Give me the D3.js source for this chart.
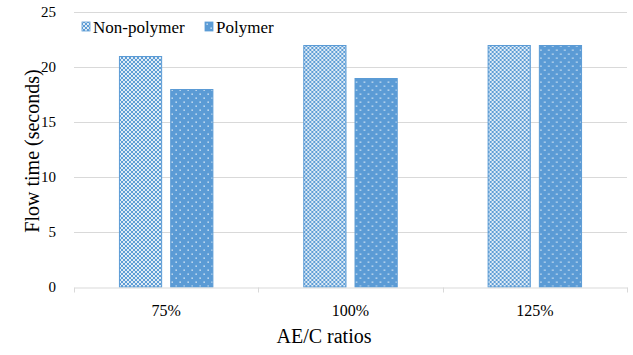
<!DOCTYPE html>
<html><head><meta charset="utf-8">
<script src="https://cdn.jsdelivr.net/npm/d3@7"></script>
<style>body{margin:0;background:#fff}svg{display:block}text{font-family:"Liberation Serif","Times New Roman","DejaVu Serif",serif;fill:#000}</style>
</head><body>
<svg id="c" width="633" height="355"></svg>
<script>
const categories = ["75%", "100%", "125%"];
const seriesNames = ["Non-polymer", "Polymer"];
const nonPolymer = [21, 22, 22];
const polymer = [18, 19, 22];
const yTicks = [0, 5, 10, 15, 20, 25];

const FONT = '"Liberation Serif", "Times New Roman", "DejaVu Serif", serif';
const svg = d3.select("#c");
const m = {l: 74, r: 6, t: 12, b: 68};
const W = 633, H = 355;
const x = d3.scaleBand().domain(categories).range([m.l, W - m.r]).paddingInner(0).paddingOuter(0);
const xs = d3.scaleBand().domain(seriesNames).range([0, x.bandwidth()]).paddingInner(0.157).paddingOuter(0.877);
const y = d3.scaleLinear().domain([0, 25]).range([H - m.b, m.t]);
const blue = "#5B9BD5";

const defs = svg.append("defs");
const p1 = defs.append("pattern").attr("id", "pNon").attr("patternUnits", "userSpaceOnUse").attr("width", 4).attr("height", 4);
p1.append("rect").attr("width", 4).attr("height", 4).attr("fill", blue);
[[0,0],[4,0],[0,4],[4,4],[2,2]].forEach(([cx,cy]) => p1.append("circle").attr("cx", cx).attr("cy", cy).attr("r", 1.12).attr("fill", "#fff"));
const p2 = defs.append("pattern").attr("id", "pPoly").attr("patternUnits", "userSpaceOnUse").attr("width", 8).attr("height", 8);
p2.append("rect").attr("width", 8).attr("height", 8).attr("fill", blue);
[[1.5,1.5],[5.5,5.5]].forEach(([cx,cy]) => p2.append("rect").attr("x", cx).attr("y", cy).attr("width", 1.3).attr("height", 1.3).attr("fill", "#fff").attr("opacity", 0.9));
const fills = {"Non-polymer": "url(#pNon)", "Polymer": "url(#pPoly)"};

// gridlines
svg.append("g").selectAll("line").data(yTicks.filter(d => d > 0)).join("line")
  .attr("x1", m.l).attr("x2", W - m.r).attr("y1", d => Math.round(y(d)) + 0.5).attr("y2", d => Math.round(y(d)) + 0.5)
  .attr("stroke", "#d9d9d9").attr("stroke-width", 1);

// y axis labels
const ya = svg.append("g").attr("transform", `translate(${m.l},0)`).call(d3.axisLeft(y).tickValues(yTicks).tickSize(0).tickPadding(18));
ya.attr("font-family", FONT);
ya.select(".domain").remove();
ya.selectAll("text").attr("font-family", FONT).style("font-family", FONT).style("font-size", "15px").attr("fill", "#000");

// bars
const data = categories.map((c, i) => ({c, vals: [{s: "Non-polymer", v: nonPolymer[i]}, {s: "Polymer", v: polymer[i]}]}));
const g = svg.append("g").selectAll("g").data(data).join("g").attr("transform", d => `translate(${x(d.c)},0)`);
g.selectAll("rect").data(d => d.vals).join("rect")
  .attr("x", d => xs(d.s) + 0.5).attr("width", xs.bandwidth() - 1)
  .attr("y", d => y(d.v) + 0.5).attr("height", d => y(0) - y(d.v) - 0.5)
  .attr("fill", d => fills[d.s]).attr("stroke", blue).attr("stroke-width", 1);

// x axis
const xa = svg.append("g").attr("transform", `translate(0,${Math.round(y(0)) + 0.5})`).call(d3.axisBottom(x).tickSize(0).tickPadding(17));
xa.attr("font-family", FONT);
xa.select(".domain").attr("stroke", "#d9d9d9");
xa.selectAll("text").attr("font-family", FONT).style("font-family", FONT).style("font-size", "16px").attr("fill", "#000");
const edges = categories.map(c => x(c)).concat([x(categories[categories.length - 1]) + x.bandwidth()]);
xa.selectAll("line.edge").data(edges).join("line").attr("class", "edge")
  .attr("x1", d => Math.round(d) + 0.5).attr("x2", d => Math.round(d) + 0.5).attr("y1", 0).attr("y2", 5)
  .attr("stroke", "#d9d9d9");

// titles
svg.append("text").attr("x", 324).attr("y", 343).attr("text-anchor", "middle").attr("font-family", FONT).style("font-size", "20px").text("AE/C ratios");
svg.append("text").attr("transform", "translate(39,151) rotate(-90)").attr("text-anchor", "middle").attr("font-family", FONT).style("font-size", "20px").text("Flow time (seconds)");

// legend
const leg = [{s: "Non-polymer", x: 82}, {s: "Polymer", x: 205}];
const lg = svg.append("g").selectAll("g").data(leg).join("g").attr("transform", d => `translate(${d.x},22)`);
lg.append("rect").attr("width", 8).attr("height", 9).attr("fill", d => fills[d.s]).attr("stroke", blue).attr("stroke-width", 0.8);
lg.append("text").attr("x", 11).attr("y", 11).attr("font-family", FONT).style("font-size", "17px").text(d => d.s);
</script>
</body></html>
